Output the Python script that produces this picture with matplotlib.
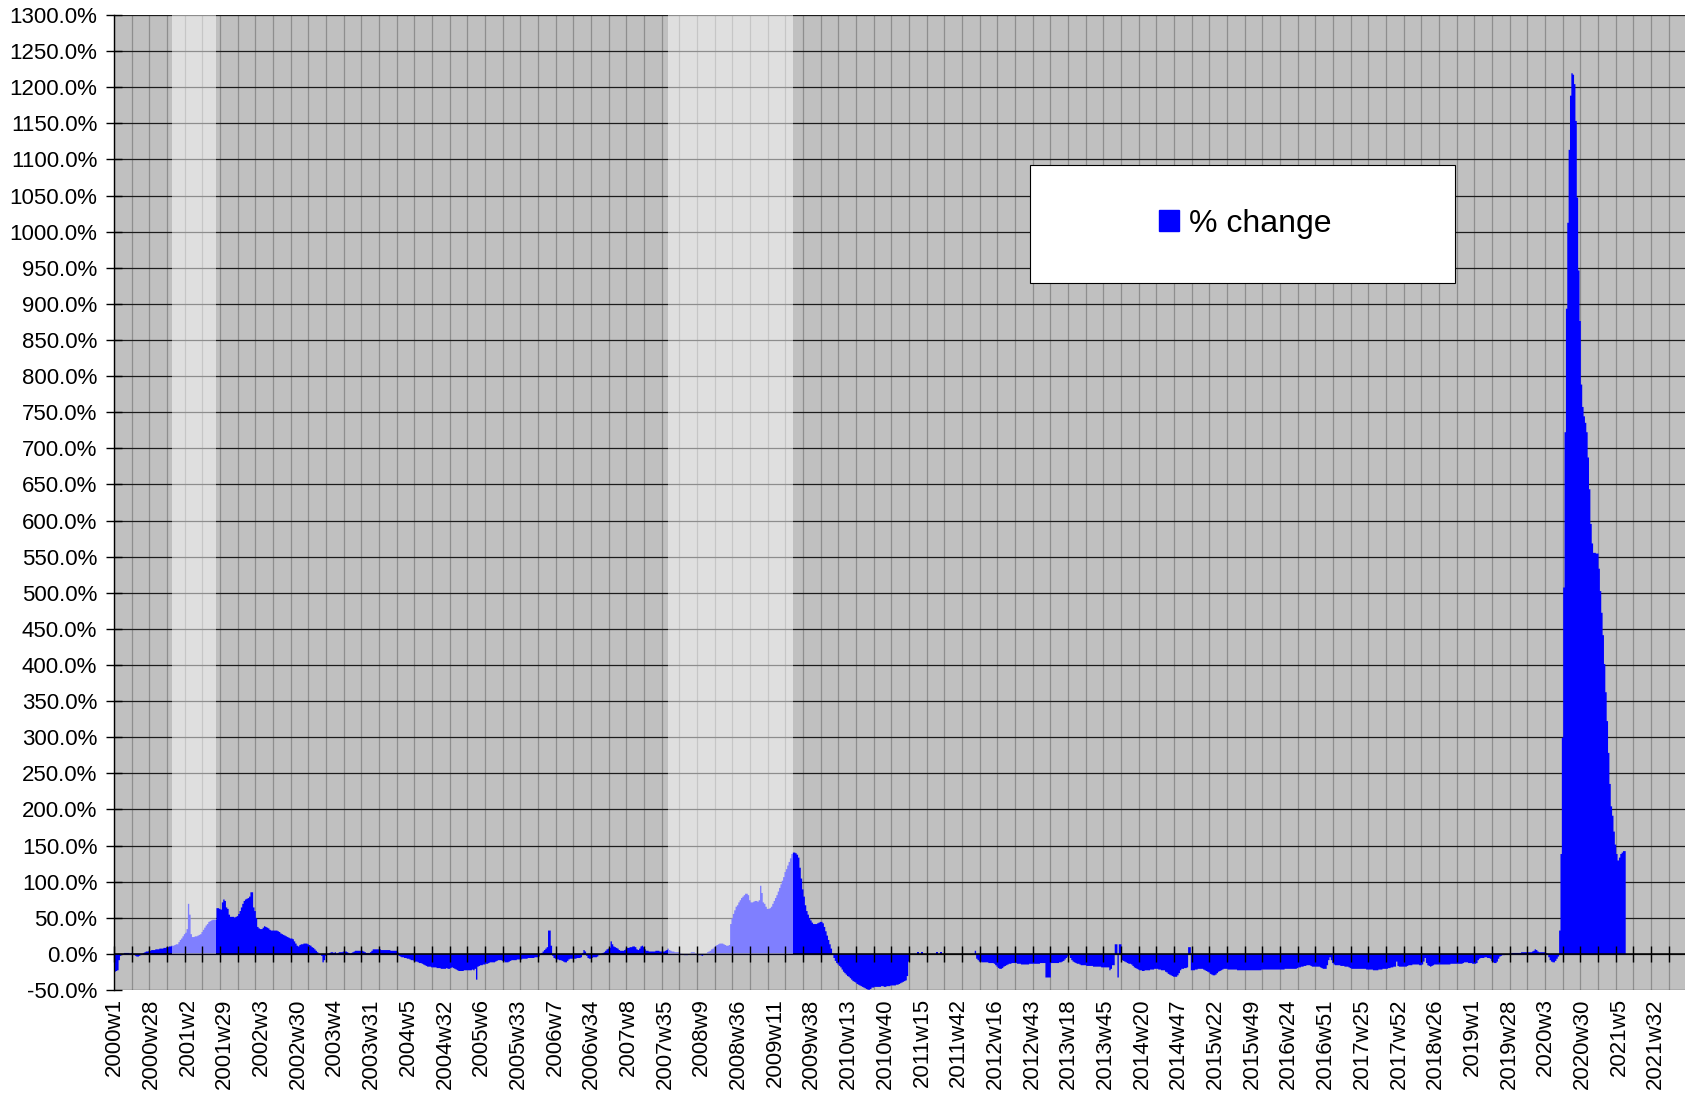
import numpy as np
import matplotlib
matplotlib.use("Agg")
import matplotlib.pyplot as plt
from matplotlib.patches import Rectangle, Patch
from matplotlib.ticker import MultipleLocator, FuncFormatter

plt.rcParams['font.family'] = ['Liberation Sans', 'DejaVu Sans']

# ---------------- data ----------------
week_labels = ["2000w1", "2000w28", "2001w2", "2001w29", "2002w3", "2002w30", "2003w4",
               "2003w31", "2004w5", "2004w32", "2005w6", "2005w33", "2006w7", "2006w34",
               "2007w8", "2007w35", "2008w9", "2008w36", "2009w11", "2009w38", "2010w13",
               "2010w40", "2011w15", "2011w42", "2012w16", "2012w43", "2013w18", "2013w45",
               "2014w20", "2014w47", "2015w22", "2015w49", "2016w24", "2016w51", "2017w25",
               "2017w52", "2018w26", "2019w1", "2019w28", "2020w3", "2020w30", "2021w5",
               "2021w32"]
label_every = 27      # categories between labels
tick_every = 13       # categories between tick marks / vertical gridlines
n_weeks = 1156        # categories on the axis

nan = float('nan')

# weekly % change, each list starts at the given week index
pct_w0000 = [-24, -23, -22, -8, -2, 0, 1, 2, 2, 2, 2, 1, 2,
             1, 0, -2, -3, -3, -2, -1, 1, 2, 3, 4, 4, 5, 5,
             6, 6, 6, 7, 7, 7, 8, 8, 8, 9, 9, 10, 10,
             11, 11, 12, 12, 13, 14, 14, 17, 20, 22, 25, 28, 30]
pct_w0053 = [35, 70, 55, 28, 24, 24, 25, 25, 26, 27, 28,
             31, 34, 37, 40, 42, 45, 46, 47, 48, 48, 48,
             64, 64, 63, 62, 72, 76, 74, 65, 63, 55,
             52, 52, 52, 51, 52, 53, 56, 60, 65, 70,
             74, 76, 77, 78, 80, 86, 86, 65, 60, 50, 38]
pct_w0106 = [36, 35, 35, 37, 39, 38, 37, 36,
             34, 33, 33, 33, 33, 33, 32, 31, 29, 28, 27, 26, 25, 24,
             23, 22, 22, 21, 18, 15, 12, 11,
             13, 14, 14, 15, 15, 15, 14, 13, 12, 10, 9, 7, 5,
             3, 1, 0, -2, -11, -8, -2, 0, 1, 2]
pct_w0159 = [3, 3, 2, 3, 1, 2, 3, 3, 3, 4, 4,
             4, 3, 2, 1, 2, 3, 4, 5, 5, 5, 5, 5, 5, 4, 3,
             2, 2, 2, 3, 5,
             7, 7, 7, 7, 7, 7, 6, 6, 6, 6, 6, 6, 6, 5, 5, 5, 5, 5, 3,
             -2, -3, -4]
pct_w0212 = [-4, -5, -5, -6, -6, -7, -8,
             -8, -9, -10, -10, -11, -12, -12, -13, -14, -15,
             -16, -17, -17, -17, -18, -18, -18, -18, -19, -19,
             -19, -20, -20, -20, -20, -19, -20, -20, -19,
             -18, -19, -20, -21, -22, -23, -23, -23, -23, -22, -22, -22, -22,
             -22, -22, -21, -22]
pct_w0265 = [-20, -35, -17, -16, -15, -15, -14, -14, -13, -13,
             -12, -11, -11, -11, -11, -10, -9, -8, -8, -8, -9, -9,
             -11, -11, -11, -10, -9, -8, -8, -8, -8, -7, -7, -7, -7,
             -6, -6, -6, -6, -5, -5, -5, -5, -5, -4, -4, -4, -3,
             0, 2, 4, 6, 8]
pct_w0318 = [10, 33, 33, 12, -2, -5, -6, -7, -7, -8, -8,
             -9, -10, -11, -11, -9, -7, -6, -6, -6, -6, -6, -5, -5, -5, -4,
             2, 6, 4, -2, -5, -6, -6, -5, -4, -4, -4, -3,
             -1, 0, 1, 2, 3, 5, 7, 8, 9, 18, 14, 11, 10, 9, 8]
pct_w0371 = [6, 5, 5, 5, 6, 8, 9, 9, 10, 10, 11, 11, 10, 7, 6, 8,
             11, 12, 10, 7, 5, 5, 4,
             4, 4, 4, 4, 5, 5, 5, 4, 4, 4, 4, 5, 6, 8,
             6, 5, 4, 4, 3, 3, 3, 3, 2, 1, 0, -1, -1, -1, 0, 1]
pct_w0424 = [3, 3, 3, 2, 1, -1, -1, -1, -2, -1, 0, 1,
             3, 4, 5, 7, 8, 10, 12, 13, 14, 15, 15, 15, 14,
             13, 12, 12, 13, 42, 50, 56, 61,
             66, 68, 72, 75, 78, 80, 82, 84, 84, 82,
             75, 72, 72, 73, 74, 74, 73, 75, 95]
pct_w0476 = [85, 72, 70, 66, 63, 63, 64, 66,
             70, 74, 78, 82, 87, 92, 97, 102, 107,
             114, 118, 123, 128, 133, 139, 141, 141, 140, 138, 134,
             120, 105, 90, 80, 68, 60, 55, 50, 47,
             44, 42, 42, 42, 43, 44, 45, 45, 43, 38, 32, 26,
             20, 14, 8, 1]
pct_w0529 = [-5, -9, -12, -14, -16, -18, -21, -24, -26, -28, -30, -31, -33,
             -35, -37, -38, -39, -41, -42, -43, -44, -45, -46,
             -47, -48, -49, -49, -48,
             -46, -46, -45, -45, -45, -45, -45, -44, -44, -45,
             -45, -44, -44, -44, -43, -43, -43, -43, -42, -42,
             -41, -40, -39, -38, -37, -36, -30, -10]
pct_w0591 = [3, nan, nan, 3]
pct_w0605 = [3, nan, nan, 3]
pct_w0633 = [5, -6, -8, -10, -10,
             -11, -11, -11, -11, -11, -12, -12, -12, -12, -13,
             -15, -17, -19, -20, -20, -19, -17, -16, -15, -14, -13, -13,
             -12, -12, -12, -12, -13,
             -13, -13, -14, -14, -14, -14, -14, -14, -13, -13,
             -13, -13, -13, -13, -13, -13, -12, -12, -12, -12,
             -32, -32, -32, -32, -12]
pct_w0690 = [-12, -12, -12, -12, -12, -11, -11, -10, -9, -7, -5, -3, -1,
             -5, -8, -10, -11, -12, -13, -13, -14,
             -15, -15, -15, -15, -16, -16, -16, -16, -16, -17, -17, -17, -17,
             -17, -17, -18, -18, -18, -18, -18, -18, -22, -20, -15, -15,
             14, 14, -32, 14, 14, -8, -9, -10, -11, -12, -13, -13]
pct_w0748 = [-14, -16, -18, -19, -20,
             -21, -22, -22, -23, -23, -22, -22, -22, -22, -21,
             -21, -21, -20, -20, -20, -21, -21, -22, -22, -22,
             -24, -25, -27, -28, -29, -30, -31, -31, -31, -29, -26, -22,
             -20, -20, -19, -19, -18, 10, 10,
             -22, -22, -22, -21, -21, -20, -20, -20, -20,
             -21, -22, -23, -24, -25, -27, -28, -29, -29, -28, -26,
             -24, -23, -22, -21, -20, -20, -20,
             -21, -21, -21, -21, -21, -21, -21, -22, -22, -22, -22, -22, -22,
             -22, -22, -22, -22, -22, -22, -22, -22, -22, -22]
pct_w0842 = [-22, -22, -21, -21, -21, -21, -21, -21, -21, -21,
             -21, -21, -21, -21, -21, -21, -21, -21, -21,
             -20, -20, -20, -20, -20, -20, -20, -20, -20, -19,
             -18, -18, -17, -17, -16, -16, -15, -15, -15, -16,
             -17, -17, -17, -17, -17, -17, -18, -19, -20, -20, -20, -15,
             -8, -4, -8, -12, -14, -15, -15, -15,
             -15, -16, -16, -16, -17, -17, -17,
             -18, -19, -20, -20, -20, -20, -20, -20, -20, -20, -20, -20,
             -20, -21, -21, -21, -21, -21, -22, -22, -22, -22, -21, -21, -21, -20, -20]
pct_w0935 = [-20, -20, -19, -19, -18, -18, -17, -17, -10,
             -16, -17, -17, -17, -17, -17, -17, -16,
             -15, -15, -15, -14, -14, -14, -14, -14, -15, -15,
             -14, -10, -5, -12, -15, -16, -17, -16, -15,
             -14, -14, -14, -14, -14, -14, -14, -14, -14, -14, -14, -14,
             -13, -13, -13, -13, -13, -13, -13, -13, -13, -12,
             -11, -11, -11, -12, -12, -12, -13, -13, -13, -12,
             -8, -6, -5, -5, -5, -4, -4, -5, -5, -6,
             -9, -11, -12, -12, -10, -6, -3, -2, -1, -1, 0, 0, 0, 1, 1,
             2, 2, 2, 2, 2, 2, 2, 3, 3, 3, 3, 3, 3, 3, 3, 4, 5, 7, 6,
             4, 3, 3, 3, 3, 3, 2, 1,
             -4, -8, -10, -11, -11, -9, -6, -3]
pct_w1063 = [33, 139, 300, 508, 723, 894, 1013, 1114, 1189, 1220, 1218, 1205,
             1154, 1048, 947, 877, 789, 758, 745, 736, 723, 688, 644, 596, 569,
             556, 556, 555, 555, 534, 503, 473, 442, 402, 363, 323, 279, 236,
             205, 192, 170, 152, 139, 130, 134, 139, 141, 143, 143]

segments = [(0, pct_w0000), (53, pct_w0053), (106, pct_w0106), (159, pct_w0159),
            (212, pct_w0212), (265, pct_w0265), (318, pct_w0318), (371, pct_w0371),
            (424, pct_w0424), (476, pct_w0476), (529, pct_w0529), (591, pct_w0591),
            (605, pct_w0605), (633, pct_w0633), (690, pct_w0690), (748, pct_w0748),
            (842, pct_w0842), (935, pct_w0935), (1063, pct_w1063)]

# shaded periods: (first week index, end week index)
shaded_periods = [(43, 75), (408, 500)]
shade_top = 1300

# ---------------- build ----------------
values = np.full(n_weeks, np.nan)
for start, seg in segments:
    values[start:start + len(seg)] = seg
valid = ~np.isnan(values)

W, H = 1687, 1095
fig = plt.figure(figsize=(W / 100, H / 100), dpi=100)
rect = [114 / W, 1 - 990 / H, (1685 - 114) / W, (990 - 15) / H]
ax = fig.add_axes(rect)
ax.set_facecolor('#c0c0c0')
ax.set_xlim(0, n_weeks)
ax.set_ylim(-50, 1300)
ax.set_axisbelow(True)

# weekly columns, drawn as one stepped polygon per contiguous run (no seams)
i = 0
while i < n_weeks:
    if not valid[i]:
        i += 1
        continue
    j = i
    while j + 1 < n_weeks and valid[j + 1]:
        j += 1
    xs = np.arange(i, j + 2)
    ys = np.append(values[i:j + 1], values[j])
    ax.fill_between(xs, ys, 0, step='post', color='#0000ff', linewidth=0, zorder=2)
    i = j + 1

ax.axhline(0, color='black', lw=1.1, zorder=2.5)
for s, e in shaded_periods:
    ax.bar(s, shade_top, width=e - s, bottom=0, align='edge', color='white',
           alpha=0.5, linewidth=0, zorder=3)

# grid
ax.xaxis.set_major_locator(MultipleLocator(tick_every))
ax.yaxis.set_major_locator(MultipleLocator(50))
ax.grid(axis='y', color='#1c1c1c', lw=0.9)
ax.grid(axis='x', color='#8e8e8e', lw=0.9)
ax.tick_params(axis='x', which='major', length=0, labelbottom=False)
lab_pos = np.arange(len(week_labels)) * label_every + 0.5
ax.set_xticks(lab_pos, week_labels, minor=True)
ax.tick_params(axis='x', which='minor', length=0, rotation=90, labelsize=16, pad=6)
ax.yaxis.set_major_formatter(FuncFormatter(lambda v, p: f"{v:.1f}%"))
ax.tick_params(axis='y', direction='inout', length=12, width=1, labelsize=16, pad=6)
for sp in ['top', 'right', 'bottom']:
    ax.spines[sp].set_visible(False)
ax.spines['left'].set_color('black')
ax.spines['left'].set_linewidth(1.0)

# overlay axes for the category-axis tick marks crossing zero
ax2 = fig.add_axes(rect, facecolor='none')
ax2.set_zorder(ax.get_zorder() + 1)
ax2.set_xlim(0, n_weeks)
ax2.set_ylim(-50, 1300)
ax2.spines['bottom'].set_position(('data', 0))
for sp in ['top', 'right', 'left', 'bottom']:
    ax2.spines[sp].set_visible(False)
ax2.xaxis.set_major_locator(MultipleLocator(tick_every))
ax2.tick_params(axis='x', direction='inout', length=11, width=1, color='black',
                labelbottom=False)
ax2.set_yticks([])

# legend box
fig.add_artist(Rectangle((1030 / W, 1 - 283 / H), 425 / W, 118 / H,
                         transform=fig.transFigure, facecolor='white',
                         edgecolor='black', lw=0.8, zorder=10))
leg = fig.legend(handles=[Patch(facecolor='#0000ff', edgecolor='#0000ff')],
                 labels=['% change'], loc='center',
                 bbox_to_anchor=(1245 / W, 1 - 224 / H), frameon=False,
                 fontsize=23, handlelength=0.65, handleheight=0.65,
                 handletextpad=0.3)
leg.set_zorder(11)

fig.savefig('out.png', dpi=100)
